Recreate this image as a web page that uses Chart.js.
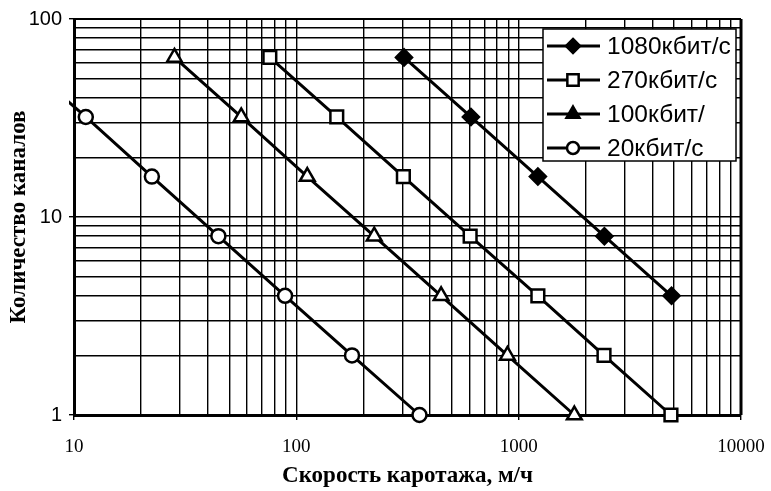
<!DOCTYPE html>
<html lang="ru">
<head>
<meta charset="UTF-8">
<title>Количество каналов от скорости каротажа</title>
<script src="https://cdn.jsdelivr.net/npm/chart.js"></script>
<style>
    body { margin: 0; background: #fff; }
</style>
</head>
<body>
<canvas id="chart" width="771" height="491"></canvas>
<script>
// названия серий
const seriesNames = ['1080кбит/с', '270кбит/с', '100кбит/', '20кбит/с'];

// количество каналов (ось Y) и скорость каротажа, м/ч (ось X)
const channels1080 = [64, 32, 16, 8, 4];
const speed1080 = [305, 610, 1220, 2430, 4870];

const channels270 = [64, 32, 16, 8, 4, 2, 1];
const speed270 = [76, 152, 303, 605, 1220, 2420, 4840];

const channels100 = [64, 32, 16, 8, 4, 2, 1];
const speed100 = [28.3, 56.5, 112, 224, 448, 890, 1780];

const channels20 = [64, 32, 16, 8, 4, 2, 1];
const speed20 = [5.6, 11.3, 22.4, 44.6, 89, 178, 358];

const xTickLabels = ['10', '100', '1000', '10000'];
const yTickLabels = ['1', '10', '100'];

const pointStyles = ['rectRot', 'rect', 'triangle', 'circle'];
const pointFills = ['#000', '#fff', '#fff', '#fff'];

function pairs(xs, ys) {
    return xs.map((x, i) => ({ x: x, y: ys[i] }));
}

// сетка логарифмической шкалы: 1..9 в каждой декаде
function logGrid(min, max) {
    const v = [];
    for (let e = Math.round(Math.log10(min)); e < Math.round(Math.log10(max)); e++) {
        for (let m = 1; m < 10; m++) v.push(Math.round(m * Math.pow(10, e)));
    }
    v.push(max);
    return v;
}

function markerSize(style) {
    return { rectRot: 8, rect: 9, triangle: 8.5, circle: 7 }[style];
}

function drawMarker(ctx, style, fill, x, y, r) {
    ctx.save();
    ctx.beginPath();
    if (style === 'rectRot') {
        ctx.moveTo(x, y - r); ctx.lineTo(x + r, y); ctx.lineTo(x, y + r); ctx.lineTo(x - r, y);
    } else if (style === 'rect') {
        const s = r * Math.SQRT1_2;
        ctx.rect(x - s, y - s, 2 * s, 2 * s);
    } else if (style === 'triangle') {
        ctx.moveTo(x, y - r);
        ctx.lineTo(x + r * 0.866, y + r / 2);
        ctx.lineTo(x - r * 0.866, y + r / 2);
    } else {
        ctx.arc(x, y, r, 0, Math.PI * 2);
    }
    ctx.closePath();
    ctx.fillStyle = fill;
    ctx.fill();
    ctx.lineWidth = 2.5;
    ctx.strokeStyle = '#000';
    ctx.stroke();
    ctx.restore();
}

const frame = {
    id: 'frame',
    afterDatasetsDraw(chart) {
        const { ctx, chartArea: a } = chart;
        ctx.save();
        ctx.strokeStyle = '#000';
        ctx.lineWidth = 2;
        ctx.beginPath();
        ctx.moveTo(a.left, a.top); ctx.lineTo(a.right, a.top);
        ctx.stroke();
        ctx.lineWidth = 3;
        ctx.beginPath();
        ctx.moveTo(a.right, a.top); ctx.lineTo(a.right, a.bottom);
        ctx.stroke();

        // легенда
        const box = { x: a.right - 198, y: a.top + 10, w: 193, h: 132 };
        ctx.fillStyle = '#fff';
        ctx.fillRect(box.x, box.y, box.w, box.h);
        ctx.lineWidth = 1.5;
        ctx.strokeRect(box.x, box.y, box.w, box.h);
        ctx.font = '24.5px "Liberation Sans", Arial, sans-serif';
        ctx.textBaseline = 'middle';
        ctx.fillStyle = '#000';
        seriesNames.forEach((name, i) => {
            const cy = box.y + 17 + i * 34;
            ctx.lineWidth = 3;
            ctx.beginPath();
            ctx.moveTo(box.x + 4, cy); ctx.lineTo(box.x + 57, cy);
            ctx.stroke();
            drawMarker(ctx, pointStyles[i], i === 2 ? '#000' : pointFills[i],
                box.x + 30, cy, markerSize(pointStyles[i]) - 1);
            ctx.fillStyle = '#000';
            ctx.fillText(name, box.x + 64, cy + 1);
        });
        ctx.restore();
    }
};

const allSpeeds = [speed1080, speed270, speed100, speed20];
const allChannels = [channels1080, channels270, channels100, channels20];

const datasets = seriesNames.map((name, i) => ({
    label: name,
    data: pairs(allSpeeds[i], allChannels[i]),
    borderColor: '#000',
    borderWidth: 3,
    pointStyle: pointStyles[i],
    pointRadius: markerSize(pointStyles[i]),
    pointBackgroundColor: pointFills[i],
    pointBorderColor: '#000',
    pointBorderWidth: 2.5,
    clip: { left: 5, top: 12, right: 12, bottom: 12 },
    tension: 0
}));

new Chart(document.getElementById('chart'), {
    type: 'line',
    data: { datasets: datasets },
    options: {
        responsive: false,
        animation: false,
        layout: { padding: { top: 16, right: 30, left: 0, bottom: 0 } },
        plugins: { legend: { display: false }, tooltip: { enabled: false } },
        scales: {
            x: {
                type: 'logarithmic',
                min: 10,
                max: 10000,
                afterBuildTicks: (axis) => { axis.ticks = logGrid(10, 10000).map(v => ({ value: v })); },
                afterFit: (axis) => { axis.height = 76; axis.paddingLeft = 0; axis.paddingRight = 0; },
                border: { display: true, color: '#000', width: 3 },
                grid: {
                    color: '#000',
                    lineWidth: 1.4,
                    tickLength: 5,
                    tickColor: (c) => c.tick && xTickLabels.includes(String(c.tick.value)) ? '#000' : 'rgba(0,0,0,0)'
                },
                ticks: {
                    autoSkip: false,
                    maxRotation: 0,
                    padding: 16,
                    color: '#000',
                    font: { family: '"Liberation Serif", "Times New Roman", serif', size: 19 },
                    callback: (v) => xTickLabels.includes(String(v)) ? String(v) : ''
                },
                title: {
                    display: true,
                    text: 'Скорость каротажа, м/ч',
                    color: '#000',
                    padding: { top: 0, bottom: 1 },
                    font: { family: '"Liberation Serif", "Times New Roman", serif', size: 23, weight: 'bold' }
                }
            },
            y: {
                type: 'logarithmic',
                min: 1,
                max: 100,
                afterBuildTicks: (axis) => { axis.ticks = logGrid(1, 100).map(v => ({ value: v })); },
                afterFit: (axis) => { axis.width = 74; },
                border: { display: true, color: '#000', width: 3 },
                grid: {
                    color: '#000',
                    lineWidth: 1.4,
                    tickLength: 5,
                    tickColor: (c) => c.tick && yTickLabels.includes(String(c.tick.value)) ? '#000' : 'rgba(0,0,0,0)'
                },
                ticks: {
                    autoSkip: false,
                    padding: 7,
                    color: '#000',
                    font: { family: '"Liberation Sans", Arial, sans-serif', size: 20 },
                    callback: (v) => yTickLabels.includes(String(v)) ? String(v) : ''
                },
                title: {
                    display: true,
                    text: 'Количество каналов',
                    color: '#000',
                    padding: { top: 5, bottom: 0 },
                    font: { family: '"Liberation Serif", "Times New Roman", serif', size: 23, weight: 'bold' }
                }
            }
        }
    },
    plugins: [frame]
});
</script>
</body>
</html>
